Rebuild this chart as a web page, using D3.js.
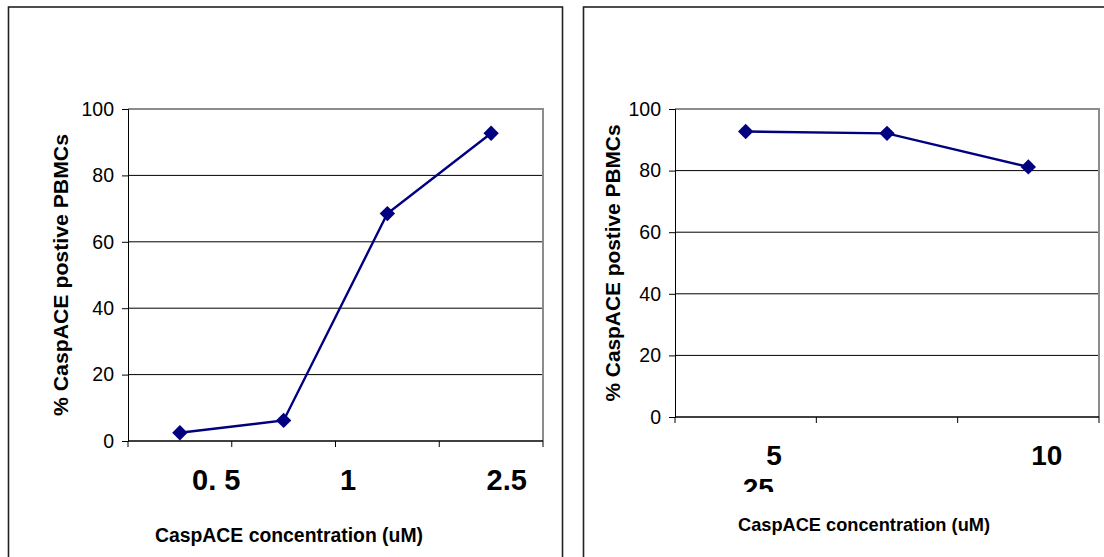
<!DOCTYPE html>
<html>
<head>
<meta charset="utf-8">
<script src="https://cdn.jsdelivr.net/npm/d3@7"></script>
<style>
  body { margin: 0; background: #fff; }
  svg { display: block; font-family: "Liberation Sans", Arial, sans-serif; }
</style>
</head>
<body>
<div id="chart"></div>
<script>
// left chart: 4 concentrations, 3 printed labels (as in the original, shifted)
const leftCats = ["c1", "c2", "c3", "c4"];
const leftValues = [2.5, 6.2, 68.5, 92.7];
const leftTickText = ["0. 5", "1", "2.5"];
const leftTickAt = [0.85, 2.12, 3.65]; // in category units along the axis

// right chart
const rightCats = ["c1", "c2", "c3"];
const rightValues = [92.7, 92.1, 81.2];
const rightTickText = ["5", "10", "25"];
const rightTickAt = [0.7, 2.63, 0.59];
const rightTickRow = [0, 0, 1];

const yTicks = [0, 20, 40, 60, 80, 100];
const xTitle = "CaspACE concentration (uM)";
const yTitle = "% CaspACE postive PBMCs";

const navy = "#000080";

const svg = d3.select("#chart").append("svg")
  .attr("width", 1104)
  .attr("height", 557);

// panel frames (they run off the bottom / right like the original page)
svg.append("rect").attr("x", 8.5).attr("y", 7).attr("width", 554).attr("height", 570)
  .attr("fill", "none").attr("stroke", "#222").attr("stroke-width", 1.6);
svg.append("rect").attr("x", 583.5).attr("y", 7).attr("width", 560).attr("height", 570)
  .attr("fill", "none").attr("stroke", "#222").attr("stroke-width", 1.6);

function drawPanel(opt) {
  const {cats, values, tickText, tickAt, tickRow, box, labelY, labelRowGap, labelSize,
         tickFont, yTitleX, yTitleLen, xTitleX, xTitleY, xTitleLen, xTitleSize, clipBottom} = opt;

  const x = d3.scaleBand().domain(cats).range([box.left, box.right]);
  const xLin = d3.scaleLinear().domain([0, cats.length]).range([box.left, box.right]);
  const y = d3.scaleLinear().domain([0, 100]).range([box.bottom, box.top]);

  const g = svg.append("g");

  // gridlines
  g.append("g").selectAll("line")
    .data(yTicks.filter(d => d > 0 && d < 100))
    .enter().append("line")
    .attr("x1", box.left).attr("x2", box.right)
    .attr("y1", d => y(d)).attr("y2", d => y(d))
    .attr("stroke", "#000").attr("stroke-width", 1);

  // plot area border top + right (grey)
  g.append("path")
    .attr("d", `M${box.left},${y(100)}H${box.right}V${y(0)}`)
    .attr("fill", "none").attr("stroke", "#8c8c8c").attr("stroke-width", 2);

  // y axis
  const yAxis = g.append("g")
    .attr("transform", `translate(${box.left},0)`)
    .call(d3.axisLeft(y).tickValues(yTicks).tickSize(6).tickPadding(8));
  yAxis.select(".domain").attr("stroke", "#000");
  yAxis.selectAll(".tick line").attr("stroke", "#000");
  yAxis.selectAll("text").attr("font-size", tickFont).attr("fill", "#000")
    .attr("font-family", "Liberation Sans, Arial, sans-serif");

  // x axis: ticks at category boundaries
  const bounds = d3.range(cats.length + 1);
  g.append("line")
    .attr("x1", box.left).attr("x2", box.right)
    .attr("y1", y(0)).attr("y2", y(0))
    .attr("stroke", "#000").attr("stroke-width", 1.4);
  g.append("g").selectAll("line").data(bounds).enter().append("line")
    .attr("x1", d => xLin(d)).attr("x2", d => xLin(d))
    .attr("y1", y(0)).attr("y2", y(0) + 6)
    .attr("stroke", "#000").attr("stroke-width", 1);

  // tick labels
  let clipId = null;
  if (clipBottom) {
    clipId = "clip" + Math.round(box.left);
    svg.append("clipPath").attr("id", clipId).append("rect")
      .attr("x", box.left - 100).attr("y", 0).attr("width", 600).attr("height", clipBottom);
  }
  const labels = g.append("g");
  if (clipId) labels.attr("clip-path", `url(#${clipId})`);
  labels.selectAll("text").data(tickText).enter().append("text")
    .attr("x", (d, i) => xLin(tickAt[i]))
    .attr("y", (d, i) => labelY + (tickRow ? tickRow[i] : 0) * labelRowGap)
    .attr("text-anchor", "middle")
    .attr("font-weight", "bold")
    .attr("font-size", labelSize)
    .text(d => d);

  // line + diamond markers
  const line = d3.line()
    .x((d, i) => x(cats[i]) + x.bandwidth() / 2)
    .y(d => y(d));
  g.append("path").datum(values)
    .attr("d", line)
    .attr("fill", "none").attr("stroke", navy).attr("stroke-width", 2.4);

  g.append("g").selectAll("path").data(values).enter().append("path")
    .attr("d", d3.symbol().type(d3.symbolSquare).size(118))
    .attr("transform", (d, i) => `translate(${x(cats[i]) + x.bandwidth() / 2},${y(d)}) rotate(45)`)
    .attr("fill", navy);

  // axis titles
  g.append("text")
    .attr("transform", `translate(${yTitleX},${(box.top + box.bottom) / 2 + 0}) rotate(-90)`)
    .attr("text-anchor", "middle")
    .attr("dy", "0.35em")
    .attr("font-weight", "bold")
    .attr("font-size", 20)
    .attr("textLength", yTitleLen)
    .attr("lengthAdjust", "spacingAndGlyphs")
    .text(yTitle);

  g.append("text")
    .attr("x", xTitleX).attr("y", xTitleY)
    .attr("text-anchor", "middle")
    .attr("font-weight", "bold")
    .attr("font-size", xTitleSize)
    .attr("textLength", xTitleLen)
    .attr("lengthAdjust", "spacingAndGlyphs")
    .text(xTitle);
}

drawPanel({
  cats: leftCats, values: leftValues, tickText: leftTickText, tickAt: leftTickAt,
  box: {left: 128, right: 543, top: 109, bottom: 441},
  labelY: 490, labelRowGap: 0, labelSize: 29, tickFont: 19.5,
  yTitleX: 61, yTitleLen: 282,
  xTitleX: 289, xTitleY: 542, xTitleLen: 268, xTitleSize: 19.5
});

drawPanel({
  cats: rightCats, values: rightValues, tickText: rightTickText, tickAt: rightTickAt, tickRow: rightTickRow,
  box: {left: 675, right: 1099, top: 109, bottom: 417},
  labelY: 465, labelRowGap: 33, labelSize: 28, tickFont: 19.5,
  yTitleX: 613, yTitleLen: 277,
  xTitleX: 864, xTitleY: 531, xTitleLen: 252, xTitleSize: 18.5,
  clipBottom: 492
});
</script>
</body>
</html>
